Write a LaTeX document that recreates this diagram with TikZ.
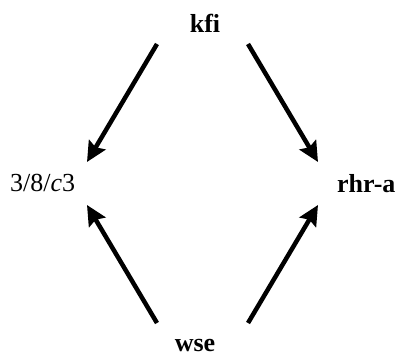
\documentclass[tikz,border=0pt]{standalone}
\usepackage{fontspec}
\setmainfont{Liberation Serif}
\usetikzlibrary{arrows.meta}
\begin{document}
\begin{tikzpicture}[x=1pt,y=-1pt,
  lbl/.style={inner sep=0pt,font=\fontsize{26}{30}\selectfont},
  arr/.style={line width=4.5pt,-{Stealth[length=20pt,width=19pt,inset=3pt]}}]
\useasboundingbox (0,0) rectangle (396,358);
\node[lbl,anchor=base] (kfi) at (205,33) {\textbf{kfi}};
\node[lbl,anchor=base west] (c3) at (10,192) {3/8/\textit{c}3};
\node[lbl,anchor=base west] (rhr) at (337,193) {\textbf{rhr-a}};
\node[lbl,anchor=base] (wse) at (195,351) {\textbf{wse}};
\coordinate (kfiL) at (157,44);
\coordinate (kfiR) at (248,44);
\coordinate (wseL) at (157,323);
\coordinate (wseR) at (248,323);
\coordinate (c3T) at (87,162);
\coordinate (c3B) at (87,205);
\coordinate (rhrT) at (318,162);
\coordinate (rhrB) at (318,205);
\draw[arr] (kfiL) -- (c3T);
\draw[arr] (kfiR) -- (rhrT);
\draw[arr] (wseL) -- (c3B);
\draw[arr] (wseR) -- (rhrB);
\end{tikzpicture}
\end{document}
